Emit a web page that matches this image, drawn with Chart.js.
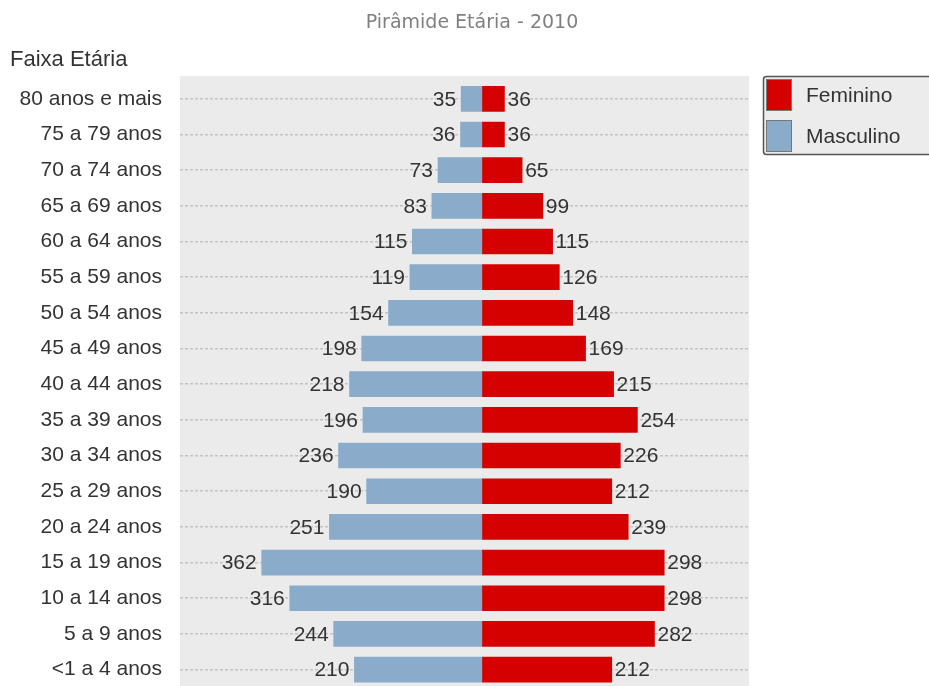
<!DOCTYPE html>
<html lang="pt">
<head>
    <meta charset="UTF-8">
    <title>Pirâmide Etária - 2010</title>
    <script src="https://cdn.jsdelivr.net/npm/chart.js"></script>
    <style>
        * { margin: 0; padding: 0; box-sizing: border-box; }
        html, body { width: 929px; height: 686px; overflow: hidden; background: #fff; }
        #wrap { position: relative; width: 929px; height: 718px; }
    </style>
</head>
<body>
    <div id="wrap"><canvas id="piramide"></canvas></div>

    <script>
        const faixas = ['80 anos e mais', '75 a 79 anos', '70 a 74 anos', '65 a 69 anos', '60 a 64 anos',
            '55 a 59 anos', '50 a 54 anos', '45 a 49 anos', '40 a 44 anos', '35 a 39 anos', '30 a 34 anos',
            '25 a 29 anos', '20 a 24 anos', '15 a 19 anos', '10 a 14 anos', '5 a 9 anos', '<1 a 4 anos'];
        const feminino = [36, 36, 65, 99, 115, 126, 148, 169, 215, 254, 226, 212, 239, 298, 298, 282, 212];
        const masculino = [35, 36, 73, 83, 115, 119, 154, 198, 218, 196, 236, 190, 251, 362, 316, 244, 210];

        const FONT = '"Liberation Sans", Arial, sans-serif';

        // grey panel behind the bars
        const panelBg = {
            id: 'panelBg',
            beforeDraw(chart) {
                const a = chart.chartArea, ctx = chart.ctx;
                ctx.save();
                ctx.fillStyle = '#ebebeb';
                ctx.fillRect(a.left, a.top - 5, a.right - a.left, a.bottom - a.top + 10);
                ctx.restore();
            }
        };

        // numbers next to the bars
        const valueLabels = {
            id: 'valueLabels',
            afterDatasetsDraw(chart) {
                const ctx = chart.ctx;
                ctx.save();
                ctx.font = '21px ' + FONT;
                ctx.fillStyle = '#333';
                ctx.textBaseline = 'middle';
                chart.data.datasets.forEach((ds, i) => {
                    chart.getDatasetMeta(i).data.forEach((bar, j) => {
                        const v = ds.data[j];
                        if (v < 0) {
                            ctx.textAlign = 'right';
                            ctx.fillText(String(-v), bar.x - 5, bar.y + 1);
                        } else {
                            ctx.textAlign = 'left';
                            ctx.fillText(String(v), bar.x + 3, bar.y + 1);
                        }
                    });
                });
                ctx.restore();
            }
        };

        // title, axis name and boxed legend
        const decorations = {
            id: 'decorations',
            afterDraw(chart) {
                const ctx = chart.ctx;
                ctx.save();
                ctx.textBaseline = 'middle';

                ctx.font = '19px "DejaVu Sans", sans-serif';
                ctx.fillStyle = '#808080';
                ctx.textAlign = 'center';
                ctx.fillText('Pirâmide Etária - 2010', 472, 23);

                ctx.font = '22px ' + FONT;
                ctx.fillStyle = '#333';
                ctx.textAlign = 'left';
                ctx.fillText('Faixa Etária', 10, 60);

                ctx.beginPath();
                ctx.roundRect(763.5, 76.5, 200, 78, 3);
                ctx.fillStyle = '#ececec';
                ctx.fill();
                ctx.lineWidth = 1.5;
                ctx.strokeStyle = '#555';
                ctx.stroke();

                chart.data.datasets.forEach((ds, i) => {
                    const y = 79 + i * 41;
                    ctx.fillStyle = ds.backgroundColor;
                    ctx.fillRect(766, y, 26, 32);
                    ctx.lineWidth = 1;
                    ctx.strokeStyle = '#777';
                    ctx.strokeRect(766.5, y + 0.5, 25, 31);
                    ctx.fillStyle = '#333';
                    ctx.font = '21px ' + FONT;
                    ctx.fillText(ds.label, 806, y + 17);
                });
                ctx.restore();
            }
        };

        const ctx = document.getElementById('piramide').getContext('2d');
        new Chart(ctx, {
            type: 'bar',
            data: {
                labels: faixas,
                datasets: [{
                    label: 'Feminino',
                    data: feminino,
                    backgroundColor: '#d50000',
                    barThickness: 25
                }, {
                    label: 'Masculino',
                    data: masculino.map(v => -v),
                    backgroundColor: '#8aabc9',
                    barThickness: 25
                }]
            },
            options: {
                indexAxis: 'y',
                responsive: true,
                maintainAspectRatio: false,
                animation: false,
                // bottom margin comes from the y ticks' own label padding (~30px)
                layout: { padding: { top: 81, right: 180, bottom: 0, left: 0 } },
                plugins: {
                    legend: { display: false },
                    title: { display: false },
                    tooltip: { enabled: false }
                },
                scales: {
                    x: {
                        display: false,
                        stacked: true,
                        min: -496,
                        max: 437
                    },
                    y: {
                        stacked: true,
                        afterFit(scale) { scale.width = 180; },
                        grid: {
                            offset: false,
                            drawTicks: false,
                            color: '#c4c4c4',
                            lineWidth: 1.5
                        },
                        border: { display: false, dash: [3, 2] },
                        ticks: {
                            padding: 18,
                            color: '#333',
                            font: { family: FONT, size: 21 }
                        }
                    }
                }
            },
            plugins: [panelBg, valueLabels, decorations]
        });
    </script>
</body>
</html>
